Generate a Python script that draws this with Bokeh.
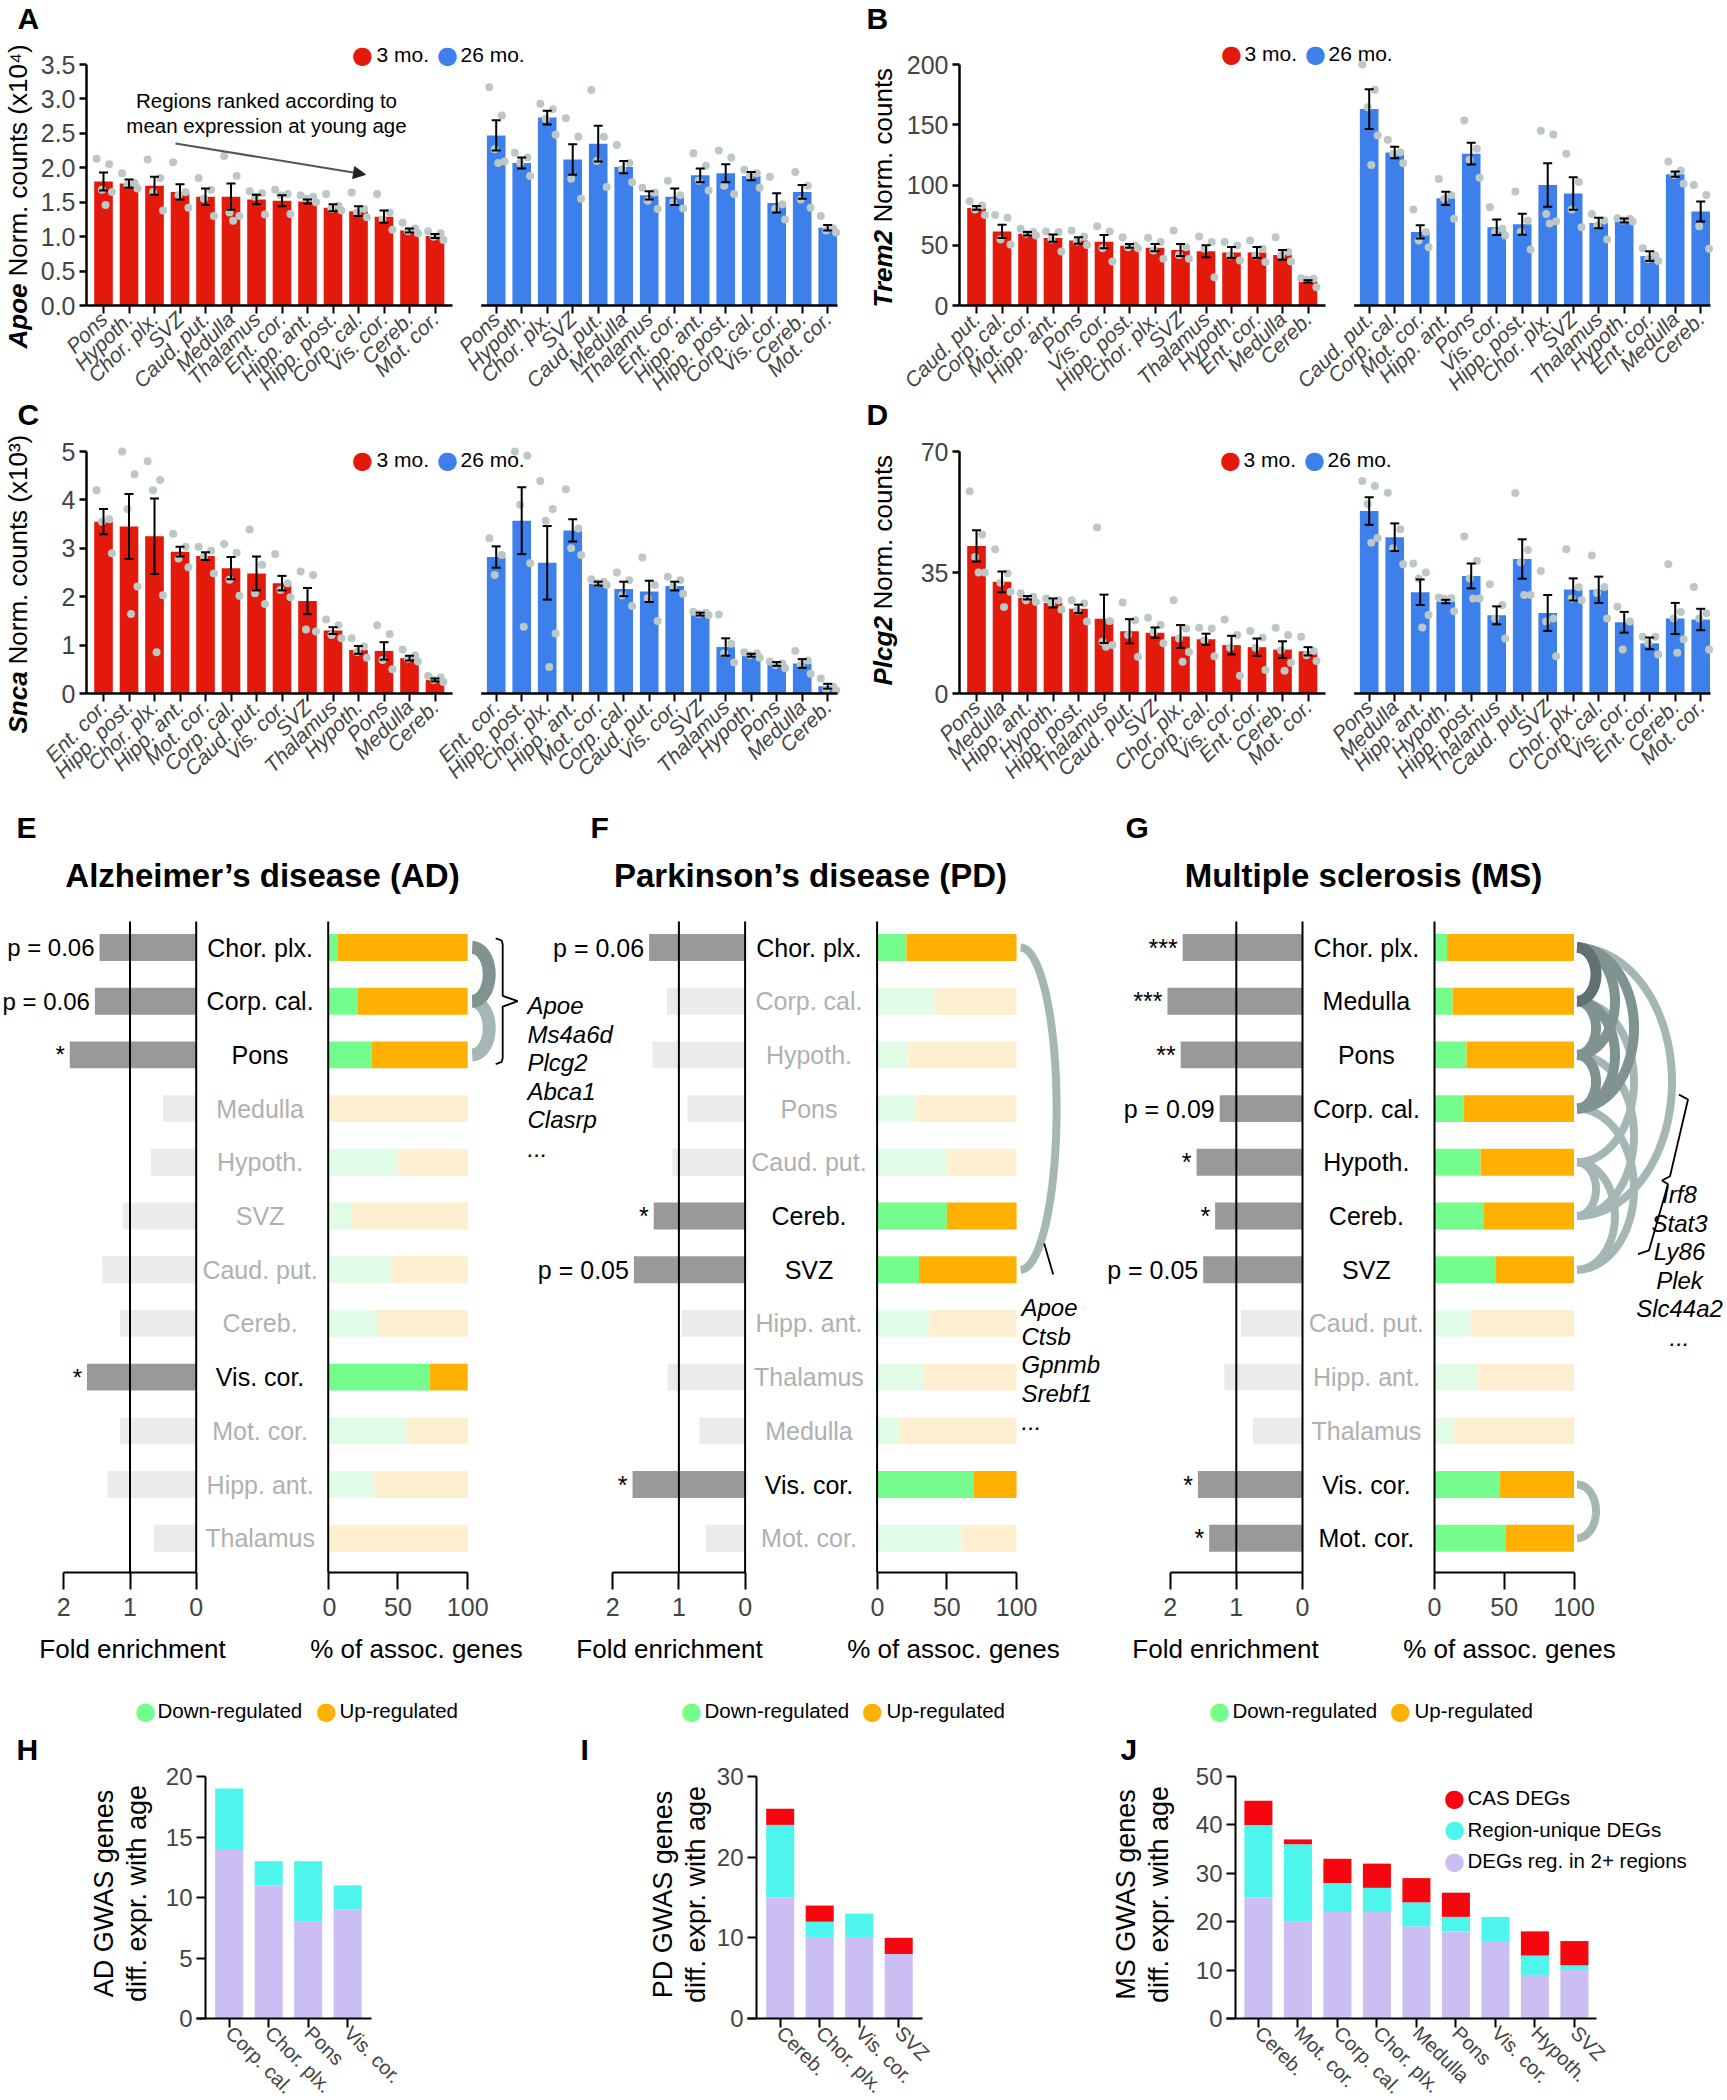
import math
import numpy as np
from bokeh.plotting import figure
from bokeh.layouts import column, row
from bokeh.models import (Range1d, FixedTicker, LinearAxis, Label, Whisker, TeeHead,
                          ColumnDataSource, Arrow, NormalHead, PrintfTickFormatter, Grid)
from bokeh.embed import file_html
from bokeh.resources import INLINE
from bokeh.core.properties import value

FONT = "Liberation Sans"
SYM = "DejaVu Sans"

# ======================= DATA =======================
# ---- A: Apoe (x10^4) ----
A_regions = ["Pons", "Hypoth.", "Chor. plx.", "SVZ", "Caud. put.", "Medulla", "Thalamus",
             "Ent. cor.", "Hipp. ant.", "Hipp. post.", "Corp. cal.", "Vis. cor.", "Cereb.", "Mot. cor."]
A_young = [1.80, 1.77, 1.74, 1.65, 1.58, 1.58, 1.54, 1.52, 1.51, 1.42, 1.37, 1.29, 1.09, 1.01]
A_young_sem = [0.13, 0.06, 0.13, 0.11, 0.12, 0.19, 0.07, 0.08, 0.03, 0.05, 0.07, 0.09, 0.03, 0.03]
A_old = [2.47, 2.07, 2.73, 2.12, 2.35, 2.01, 1.60, 1.58, 1.89, 1.92, 1.88, 1.49, 1.65, 1.13]
A_old_sem = [0.22, 0.08, 0.10, 0.22, 0.26, 0.09, 0.06, 0.12, 0.10, 0.13, 0.06, 0.14, 0.10, 0.04]
A_young_pts = [[2.13, 2.05, 1.68, 1.65, 1.46], [1.92, 1.78, 1.75, 1.70], [2.12, 1.85, 1.65, 1.38],
               [2.08, 1.65, 1.60, 1.42], [1.85, 1.68, 1.55, 1.30], [2.17, 1.88, 1.35, 1.30, 1.23],
               [1.66, 1.63, 1.58, 1.32], [1.68, 1.62, 1.60, 1.33], [1.60, 1.58, 1.55, 1.50],
               [1.62, 1.45, 1.40, 1.38], [1.64, 1.40, 1.35, 1.28], [1.62, 1.35, 1.25, 1.10],
               [1.20, 1.12, 1.08, 1.05], [1.08, 1.05, 1.00, 0.95]]
A_old_pts = [[3.17, 2.76, 2.27, 2.09, 2.07], [2.22, 2.15, 2.07, 1.88], [2.93, 2.85, 2.71, 2.48],
             [2.72, 2.45, 1.84, 1.55], [3.13, 2.45, 2.10, 1.72], [2.33, 2.07, 1.98, 1.79],
             [1.71, 1.64, 1.52, 1.40], [1.81, 1.60, 1.50, 1.41], [2.21, 2.03, 1.81, 1.67],
             [2.25, 2.15, 1.74, 1.62], [1.97, 1.92, 1.88, 1.71], [1.87, 1.47, 1.40, 1.25],
             [1.94, 1.74, 1.54, 1.42], [1.30, 1.12, 1.09, 1.06]]
A_ticks = [0.0, 0.5, 1.0, 1.5, 2.0, 2.5, 3.0, 3.5]

# ---- B: Trem2 ----
B_regions = ["Caud. put.", "Corp. cal.", "Mot. cor.", "Hipp. ant.", "Pons", "Vis. cor.", "Hipp. post.",
             "Chor. plx.", "SVZ", "Thalamus", "Hypoth.", "Ent. cor.", "Medulla", "Cereb."]
B_young = [81, 61.5, 59.5, 56, 54, 53, 49.5, 48, 46, 45, 44, 44, 42, 20]
B_young_sem = [1.5, 5.5, 1.5, 3, 2.7, 5.5, 1.5, 3, 5, 5, 4.5, 4.5, 4, 1]
B_old = [163, 127, 61, 89, 126, 65, 67.5, 100, 93, 68.5, 70.5, 41, 109, 78]
B_old_sem = [16.5, 4.7, 5.5, 5.5, 9, 6.4, 8.7, 18, 13.5, 4.4, 1.7, 4, 2.2, 8.3]
B_young_pts = [[86.6, 83, 79.7, 75.2], [75.2, 72.8, 54.8, 50.6], [63.6, 60.9, 59.5, 58.1],
               [61.4, 60.9, 54.8, 44.8], [62.2, 57.3, 53.1, 50.3], [65.8, 61.4, 47.6, 36.5],
               [56.7, 49.8, 48.4, 47.6], [56.2, 52.6, 45.6, 38.7], [62.2, 48.4, 42, 38.7],
               [57.3, 52.6, 47, 23.5], [52.6, 49.8, 41.5, 37.3], [53.9, 47, 41.5, 36],
               [56.7, 44.3, 41.5, 36.5], [22.7, 22.1, 21.6, 15.2]]
B_old_pts = [[200, 179, 164.6, 141, 116.7], [137.5, 127.2, 125.9, 118], [79.7, 60.9, 53.9, 48.4],
             [105, 91.8, 88.5, 72], [153.5, 130, 121, 106], [81.6, 63.6, 60.9, 58.1],
             [94.6, 70.5, 60.9, 46.5], [145, 142, 76, 70, 68], [125.9, 102.4, 79.7, 65],
             [76, 70.5, 66.4, 54.8], [72.5, 72, 70.5, 69.7], [47.5, 41.5, 38.5, 37],
             [119.5, 112, 108.4, 101], [100, 91.8, 65.8, 47]]
B_ticks = [0, 50, 100, 150, 200]

# ---- C: Snca (x10^3) ----
C_regions = ["Ent. cor.", "Hipp. post.", "Chor. plx.", "Hipp. ant.", "Mot. cor.", "Corp. cal.",
             "Caud. put.", "Vis. cor.", "SVZ", "Thalamus", "Hypoth.", "Pons", "Medulla", "Cereb."]
C_young = [3.55, 3.45, 3.25, 2.93, 2.84, 2.59, 2.48, 2.28, 1.91, 1.30, 0.90, 0.88, 0.73, 0.28]
C_young_sem = [0.26, 0.67, 0.78, 0.10, 0.08, 0.23, 0.35, 0.15, 0.27, 0.07, 0.08, 0.18, 0.05, 0.03]
C_old = [2.82, 3.57, 2.70, 3.37, 2.27, 2.16, 2.11, 2.22, 1.64, 0.96, 0.79, 0.61, 0.62, 0.15]
C_old_sem = [0.22, 0.69, 0.76, 0.23, 0.04, 0.15, 0.22, 0.09, 0.03, 0.18, 0.03, 0.04, 0.09, 0.05]
C_young_pts = [[4.2, 3.6, 3.55, 2.9], [5.0, 4.53, 3.81, 2.21, 1.64], [4.8, 4.41, 4.2, 2.03, 0.85],
               [3.3, 3.03, 2.79, 2.61], [3.03, 2.95, 2.83, 2.48], [3.09, 2.91, 2.35, 2.02],
               [3.39, 2.66, 2.07, 1.85], [2.88, 2.28, 2.14, 1.99], [2.52, 2.45, 1.32, 1.28],
               [1.53, 1.41, 1.21, 1.14], [1.14, 0.97, 0.86, 0.74], [1.41, 1.23, 0.69, 0.5],
               [0.91, 0.79, 0.72, 0.66], [0.36, 0.33, 0.28, 0.24]]
C_old_pts = [[3.21, 2.86, 2.45], [5.0, 4.91, 3.9, 2.69, 1.38], [4.39, 3.81, 3.57, 1.24, 0.55],
             [4.22, 3.41, 3.0, 2.86], [2.36, 2.31, 2.28, 2.24], [2.5, 2.34, 2.03, 1.81],
             [2.81, 2.24, 1.97, 1.5], [2.41, 2.34, 2.21, 2.06], [1.69, 1.67, 1.64, 1.62],
             [1.63, 1.03, 0.83, 0.64], [0.85, 0.83, 0.79, 0.74], [0.66, 0.62, 0.59, 0.52],
             [0.88, 0.68, 0.59, 0.41], [0.31, 0.14, 0.08, 0.06]]
C_ticks = [0, 1, 2, 3, 4, 5]

# ---- D: Plcg2 ----
D_regions = ["Pons", "Medulla", "Hipp. ant.", "Hypoth.", "Hipp. post.", "Thalamus", "Caud. put.",
             "SVZ", "Chor. plx.", "Corp. cal.", "Vis. cor.", "Ent. cor.", "Cereb.", "Mot. cor."]
D_young = [42.7, 32.3, 27.7, 26.2, 24.5, 21.6, 18.0, 17.6, 16.5, 15.7, 14.0, 13.4, 12.7, 12.2]
D_young_sem = [4.5, 3.0, 0.5, 1.3, 1.2, 7.0, 3.5, 1.5, 3.3, 1.6, 2.7, 2.5, 2.4, 1.2]
D_old = [52.8, 45.2, 29.3, 26.6, 34.0, 22.6, 38.9, 23.3, 30.1, 30.0, 20.6, 14.5, 21.7, 21.4]
D_old_sem = [4.0, 4.0, 3.7, 0.5, 3.6, 2.6, 5.7, 5.2, 3.2, 3.8, 3.0, 1.7, 4.5, 3.1]
D_young_pts = [[58.5, 46, 39.5, 35, 35], [41.7, 34.7, 32, 29.4, 25], [29, 28, 27, 26.5],
               [27.5, 27, 26, 24.3], [27, 26, 24, 20.8], [48, 21, 15, 14, 13.5],
               [26.3, 21.2, 16.9, 10.6], [21.9, 19.8, 17.7, 14.5], [27, 18.8, 15.9, 12, 9.2],
               [19, 18.8, 15.4, 10.8], [21.4, 16.9, 13.2, 5.1], [18.1, 16.1, 13.2, 6.8],
               [19, 16.9, 12.5, 8.9, 6.6], [16.4, 12.3, 11.1, 9.4]]
D_old_pts = [[61.5, 60, 54.8, 45, 43.6], [58.1, 47.5, 42, 37.4], [37.6, 35, 33.3, 22.7, 19.1],
             [27.8, 27.6, 27.4, 23.8], [45.4, 38.3, 33.3, 27.5, 27.5], [31.6, 25.6, 21.7, 15.9],
             [58, 41.5, 38, 28.5, 28.5], [35.4, 21.7, 20.8, 10.8], [41.7, 30.7, 27.5, 27],
             [39.9, 30.8, 29.1, 21.7], [25.1, 20.8, 12.7], [16.4, 16.4, 14.5, 11.3],
             [37.4, 23.6, 21.7, 15.7, 11.8], [30.8, 23.2, 21.7, 12.7]]
D_ticks = [0, 35, 70]

# ---- E / F / G: GWAS enrichment ----
E_regions = ["Chor. plx.", "Corp. cal.", "Pons", "Medulla", "Hypoth.", "SVZ", "Caud. put.",
             "Cereb.", "Vis. cor.", "Mot. cor.", "Hipp. ant.", "Thalamus"]
E_fold = [1.46, 1.53, 1.91, 0.50, 0.68, 1.11, 1.42, 1.15, 1.65, 1.15, 1.34, 0.64]
E_down_pct = [7, 21, 31, 0, 50, 17, 45, 35, 73, 56, 33, 0]
E_sig = ["p = 0.06", "p = 0.06", "*", "", "", "", "", "", "*", "", "", ""]
E_enriched = [1, 1, 1, 0, 0, 0, 0, 0, 1, 0, 0, 0]
E_links = [(0, 1, 1), (1, 2, 0)]
E_genes = ["Apoe", "Ms4a6d", "Plcg2", "Abca1", "Clasrp", "..."]

F_regions = ["Chor. plx.", "Corp. cal.", "Hypoth.", "Pons", "Caud. put.", "Cereb.", "SVZ",
             "Hipp. ant.", "Thalamus", "Medulla", "Vis. cor.", "Mot. cor."]
F_fold = [1.45, 1.18, 1.40, 0.87, 1.10, 1.38, 1.68, 0.96, 1.17, 0.69, 1.70, 0.59]
F_down_pct = [21, 41, 22, 28, 50, 50, 30, 37, 33, 16, 69, 60]
F_sig = ["p = 0.06", "", "", "", "", "*", "p = 0.05", "", "", "", "*", ""]
F_enriched = [1, 0, 0, 0, 0, 1, 1, 0, 0, 0, 1, 0]
F_links = [(0, 6, 0)]
F_genes = ["Apoe", "Ctsb", "Gpnmb", "Srebf1", "..."]

G_regions = ["Chor. plx.", "Medulla", "Pons", "Corp. cal.", "Hypoth.", "Cereb.", "SVZ",
             "Caud. put.", "Hipp. ant.", "Thalamus", "Vis. cor.", "Mot. cor."]
G_fold = [1.81, 2.04, 1.84, 1.25, 1.60, 1.32, 1.50, 0.93, 1.18, 0.75, 1.58, 1.41]
G_down_pct = [9, 13, 23, 21, 33, 35, 44, 26, 31, 14, 47, 51]
G_sig = ["***", "***", "**", "p = 0.09", "*", "*", "p = 0.05", "", "", "", "*", "*"]
G_enriched = [1, 1, 1, 1, 1, 1, 1, 0, 0, 0, 1, 1]
G_links = [(0, 5, 0), (1, 4, 0), (2, 5, 0), (3, 6, 0), (4, 5, 0), (4, 6, 0), (10, 11, 0),
           (0, 2, 1), (0, 3, 1), (1, 2, 1), (1, 3, 1), (2, 3, 1), (0, 1, 2)]
G_genes = ["Irf8", "Stat3", "Ly86", "Plek", "Slc44a2", "..."]

# ---- H / I / J: GWAS genes differentially expressed with age ----
H_regions = ["Corp. cal.", "Chor. plx.", "Pons", "Vis. cor."]
H_multi = [14, 11, 8, 9]
H_unique = [5, 2, 5, 2]
H_cas = [0, 0, 0, 0]
I_regions = ["Cereb.", "Chor. plx.", "Vis. cor.", "SVZ"]
I_multi = [15, 10, 10, 8]
I_unique = [9, 2, 3, 0]
I_cas = [2, 2, 0, 2]
J_regions = ["Cereb.", "Mot. cor.", "Corp. cal.", "Chor. plx.", "Medulla", "Pons", "Vis. cor.",
             "Hypoth.", "SVZ"]
J_multi = [25, 20, 22, 22, 19, 18, 16, 9, 10]
J_unique = [15, 16, 6, 5, 5, 3, 5, 4, 1]
J_cas = [5, 1, 5, 5, 5, 5, 0, 5, 5]

# ======================= STYLE =======================
RED = "#E3190B"
BLUE = "#3E80EB"
DOTC = "#BCC8C6"
DARKBAR = "#999999"
LIGHTBAR = "#EBEBEB"
GREEN = "#74FD8C"
ORANGE = "#FFB000"
LGREEN = "#E1FCE6"
LORANGE = "#FDEFD0"
NSTXT = "#B0B0B0"
ARC = ["#A5B7B4", "#7F9391", "#5F7170"]
LAV = "#CBBEF2"
CYAN = "#4EF5EC"
CASRED = "#F6060F"
PAGE_R = 1725     # right edge of the content
PAGE_B = 2100     # bottom edge of the content


def canvas_fig(cx0, cy0, cx1, cy1, fx, fy):
    """Figure whose plotting frame fills its whole canvas (page rect cx0..cx1, cy0..cy1).
    fx / fy map page pixel positions to the figure's data coordinates."""
    p = figure(width=int(cx1 - cx0), height=int(cy1 - cy0),
               x_range=Range1d(fx(cx0), fx(cx1)), y_range=Range1d(fy(cy1), fy(cy0)),
               output_backend="svg", toolbar_location=None,
               x_axis_location=None, y_axis_location=None,
               min_border_left=0, min_border_right=0, min_border_top=0, min_border_bottom=0,
               title=None)
    p.outline_line_color = None
    for g in p.select(type=Grid):
        g.visible = False
    return p, (cx0, cy1)


def page_label(p, org, px, py, text, size, color="black", style="normal", align="left",
               baseline="middle", angle=0.0, font=FONT):
    p.add_layout(Label(x=px - org[0], y=org[1] - py, x_units="screen", y_units="screen", text=text,
                       text_font=font, text_font_size=f"{size}px", text_font_style=style,
                       text_color=color, text_align=align, text_baseline=baseline, angle=angle))


def dot(p, org, px, py, color):
    page_label(p, org, px, py, "\u25CF", 24, color=color, align="center", font=SYM)


# ======================= PANELS A-D =======================
SP = 25.5        # px per bar slot
XL0 = -0.667     # bar units at the y axis
OFF = 15.4       # position of first 26 mo. bar
FW = 751         # width of the bar area in px
JIT = [-0.27, 0.22, -0.06, 0.33, 0.08]
ROW1 = dict(top=0, bottom=397, tick=64, zero=305)
ROW2 = dict(top=397, bottom=794, tick=451, zero=693)


def bar_panel(cx0, cx1, fl, R, ytop, yticks, fmt, regions, ym, ye, yp, om, oe, op):
    ppu = (R["zero"] - R["tick"]) / ytop

    def fx(px):
        return XL0 + (px - fl) / SP

    def fy(py):
        return (R["zero"] - py) / ppu

    p, org = canvas_fig(cx0, R["top"], cx1, R["bottom"], fx, fy)
    n = len(regions)
    xy = list(range(n))
    xo = [OFF + i for i in range(n)]
    for xs, means, errs, pts, col in ((xy, ym, ye, yp, RED), (xo, om, oe, op, BLUE)):
        p.vbar(x=xs, top=means, width=0.73, fill_color=col, line_color=None)
        dx, dy = [], []
        for x, vals in zip(xs, pts):
            for k, v in enumerate(vals):
                dx.append(x + JIT[k % len(JIT)])
                dy.append(v)
        p.scatter(x=dx, y=dy, size=8, fill_color=DOTC, line_color=None)
        src = ColumnDataSource(dict(x=xs, up=[m + e for m, e in zip(means, errs)],
                                    lo=[m - e for m, e in zip(means, errs)]))
        p.add_layout(Whisker(source=src, base="x", upper="up", lower="lo", line_color="black",
                             line_width=2, level="overlay",
                             upper_head=TeeHead(size=9, line_color="black", line_width=2),
                             lower_head=TeeHead(size=9, line_color="black", line_width=2)))
    p.segment(x0=[XL0, OFF - 0.59], y0=[0, 0], x1=[XL0 + 366 / SP, XL0 + FW / SP], y1=[0, 0],
              line_color="black", line_width=2.5)
    ya = LinearAxis(fixed_location=XL0, bounds=(0, ytop), ticker=FixedTicker(ticks=yticks),
                    formatter=PrintfTickFormatter(format=fmt),
                    axis_line_width=2.5, major_tick_line_width=2.5, major_tick_out=7, major_tick_in=0,
                    minor_tick_line_color=None, major_label_standoff=4,
                    major_label_text_font=FONT, major_label_text_font_size="25px")
    p.add_layout(ya, "left")
    ticks = xy + xo
    xa = LinearAxis(fixed_location=0, ticker=FixedTicker(ticks=ticks),
                    major_label_overrides={t: r for t, r in zip(ticks, regions + regions)},
                    major_label_orientation=math.pi / 4, axis_line_color=None,
                    major_tick_line_width=2, major_tick_in=0, major_tick_out=8,
                    minor_tick_line_color=None, major_label_standoff=2,
                    major_label_text_font=FONT, major_label_text_font_size="21px",
                    major_label_text_font_style="italic")
    p.add_layout(xa, "below")
    return p, org, fx, fy


def ylab(p, org, px, py, gene, gene_w, rest):
    page_label(p, org, px, py, gene, 26, style="bold italic", angle=math.pi / 2)
    page_label(p, org, px, py - gene_w - 7, rest, 26, angle=math.pi / 2)


def age_legend(p, org, xs, py):
    dot(p, org, xs[0], py, RED)
    page_label(p, org, xs[1], py, "3 mo.", 21)
    dot(p, org, xs[2], py, BLUE)
    page_label(p, org, xs[3], py, "26 mo.", 21)


pA, org, fx, fy = bar_panel(0, 857, 86, ROW1, 3.5, A_ticks, "%.1f", A_regions,
                            A_young, A_young_sem, A_young_pts, A_old, A_old_sem, A_old_pts)
page_label(pA, org, 17, 1, "A", 30, style="bold", baseline="top")
ylab(pA, org, 17, 348, "Apoe", 65, "Norm. counts (x10\u2074)")
age_legend(pA, org, [362, 376, 447, 460], 54)
page_label(pA, org, 266, 100, "Regions ranked according to", 20.5, align="center")
page_label(pA, org, 266, 125, "mean expression at young age", 20.5, align="center")
pA.add_layout(Arrow(end=NormalHead(size=12, fill_color="#222222", line_color="#222222"),
                    x_start=fx(175), y_start=fy(143), x_end=fx(365), y_end=fy(174),
                    line_color="#555555", line_width=2))

pB, org, fx, fy = bar_panel(857, PAGE_R, 959, ROW1, 200, B_ticks, "%d", B_regions,
                            B_young, B_young_sem, B_young_pts, B_old, B_old_sem, B_old_pts)
page_label(pB, org, 866, 1, "B", 30, style="bold", baseline="top")
ylab(pB, org, 882, 307, "Trem2", 78, "Norm. counts")
age_legend(pB, org, [1231, 1244, 1315, 1328], 53)

pC, org, fx, fy = bar_panel(0, 857, 86, ROW2, 5, C_ticks, "%d", C_regions,
                            C_young, C_young_sem, C_young_pts, C_old, C_old_sem, C_old_pts)
page_label(pC, org, 17, 397, "C", 30, style="bold", baseline="top")
ylab(pC, org, 17, 733, "Snca", 62, "Norm. counts (x10\u00B3)")
age_legend(pC, org, [362, 376, 447, 460], 459)

pD, org, fx, fy = bar_panel(857, PAGE_R, 959, ROW2, 70, D_ticks, "%d", D_regions,
                            D_young, D_young_sem, D_young_pts, D_old, D_old_sem, D_old_pts)
page_label(pD, org, 866, 397, "D", 30, style="bold", baseline="top")
ylab(pD, org, 882, 685, "Plcg2", 69, "Norm. counts")
age_legend(pD, org, [1230, 1243, 1314, 1327], 459)

# ======================= HEADER for E-G =======================
hdr, org = canvas_fig(0, 794, PAGE_R, 900, lambda v: v, lambda v: -v)
for letter, lx in (("E", 16), ("F", 590), ("G", 1125)):
    page_label(hdr, org, lx, 810, letter, 30, style="bold", baseline="top")
for title, tx in (("Alzheimer\u2019s disease (AD)", 262), ("Parkinson\u2019s disease (PD)", 810),
                  ("Multiple sclerosis (MS)", 1363)):
    page_label(hdr, org, tx, 875, title, 33, style="bold", align="center")

# ======================= PANELS E-G =======================
R3_TOP, R3_BOT = 900, 1628
FR_TOP, FR_BOT = 921, 1572
ROW0, ROWH = 947, 53.7
FPX, PPX = 66.2, 1.395
LABEL_X = -0.965


def fy3(py):
    return (py - ROW0) / ROWH


Y_TOP3, Y_BOT3 = fy3(FR_TOP), fy3(FR_BOT)


def bottom_axis(p, bounds, ticks):
    ax = LinearAxis(fixed_location=Y_BOT3, bounds=bounds, ticker=FixedTicker(ticks=ticks),
                    axis_line_width=2, major_tick_line_width=2, major_tick_out=17, major_tick_in=0,
                    minor_tick_line_color=None, major_label_standoff=8,
                    major_label_text_font=FONT, major_label_text_font_size="25px")
    p.add_layout(ax, "below")


def fold_fig(L, R, zero, regions, fold, enriched, sig, sig_size):
    p, org = canvas_fig(L, R3_TOP, R, R3_BOT, lambda px: (zero - px) / FPX, fy3)
    rows = list(range(len(regions)))
    p.hbar(y=rows, left=0, right=fold, height=0.5, line_color=None,
           fill_color=[DARKBAR if e else LIGHTBAR for e in enriched])
    p.segment(x0=[0, 1], y0=[Y_TOP3, Y_TOP3], x1=[0, 1], y1=[Y_BOT3, Y_BOT3],
              line_color="black", line_width=2)
    src = ColumnDataSource(dict(x=[LABEL_X] * len(rows), y=rows, t=regions,
                                c=["black" if e else NSTXT for e in enriched]))
    p.text(x="x", y="y", text="t", text_color="c", source=src, text_font=value(FONT),
           text_font_size="25px", text_align="center", text_baseline="middle")
    sx, sy, st = [], [], []
    for r, f, s in zip(rows, fold, sig):
        if s:
            sx.append(f + 5 / FPX)
            sy.append(r)
            st.append(s)
    p.text(x=sx, y=sy, text=st, text_font=value(FONT), text_font_size=f"{sig_size}px",
           text_align="right", text_baseline="middle", text_color="black")
    bottom_axis(p, (0, 2), [0, 1, 2])
    return p, org


def pct_fig(L, R, pz, regions, down, enriched, links, rx_row, gap, widths):
    p, org = canvas_fig(L, R3_TOP, R, R3_BOT, lambda px: (px - pz) / PPX, fy3)
    rows = list(range(len(regions)))
    p.hbar(y=rows, left=0, right=down, height=0.5, line_color=None,
           fill_color=[GREEN if e else LGREEN for e in enriched])
    p.hbar(y=rows, left=down, right=100, height=0.5, line_color=None,
           fill_color=[ORANGE if e else LORANGE for e in enriched])
    p.segment(x0=[0], y0=[Y_TOP3], x1=[0], y1=[Y_BOT3], line_color="black", line_width=2)
    t = np.linspace(0, np.pi, 60)
    for level in (0, 1, 2):
        xs, ys = [], []
        for (i, j, lv) in links:
            if lv != level:
                continue
            d = j - i
            x0 = 100 + gap / PPX
            rx = rx_row * d / PPX
            xs.append(list(x0 + rx * np.sin(t)))
            ys.append(list(i + d * (1 - np.cos(t)) / 2))
        if xs:
            p.multi_line(xs, ys, line_color=ARC[level], line_width=widths[level], line_cap="butt")
    bottom_axis(p, (0, 100), [0, 50, 100])
    return p, org


def deco(p, pts):
    p.line(x=[100 + dx / PPX for dx, _ in pts], y=[r for _, r in pts], line_color="black",
           line_width=1.8)


# E
E_zero = 195.7
pEf, _ = fold_fig(0, 322, E_zero, E_regions, E_fold, E_enriched, E_sig, 24)
pEp, _ = pct_fig(322, 522, E_zero + 132, E_regions, E_down_pct, E_enriched, E_links, 17, 4.5,
                 (13, 13, 13))
deco(pEp, [(28, -0.17), (34, -0.13), (35, -0.06), (35, 0.9), (50, 1.0), (35, 1.1), (35, 2.06),
           (34, 2.13), (28, 2.17)])
# F
F_zero = 744.6
pFf, orgFf = fold_fig(522, 870, F_zero, F_regions, F_fold, F_enriched, F_sig, 25)
pFp, orgFp = pct_fig(870, 1101, F_zero + 132, F_regions, F_down_pct, F_enriched, F_links, 6, 4,
                     (8, 8, 8))
deco(pFp, [(27.6, 5.51), (36.6, 6.09)])
for k, g in enumerate(E_genes):
    page_label(pFf, orgFf, 527, 1005 + 28.6 * k, g, 24, style="italic")
for k, g in enumerate(F_genes):
    page_label(pFp, orgFp, 1021, 1307 + 28.6 * k, g, 24, style="italic")
# G
G_zero = 1302
pGf, _ = fold_fig(1101, 1427, G_zero, G_regions, G_fold, G_enriched, G_sig, 25)
pGp, orgGp = pct_fig(1427, PAGE_R, G_zero + 132, G_regions, G_down_pct, G_enriched, G_links, 19, 3,
                     (8, 10, 11))
deco(pGp, [(105, 2.74), (114, 2.83), (96, 4.26), (88, 4.34), (94, 4.41), (75, 5.64), (64, 5.71)])
for k, g in enumerate(G_genes):
    page_label(pGp, orgGp, 1679, 1194 + 28.6 * k, g, 24, style="italic", align="center")

# axis titles of E-G (a strip under the three panels)
strip, org = canvas_fig(0, 1628, PAGE_R, 1670, lambda v: v, lambda v: -v)
for cx in (132, 669, 1225):
    page_label(strip, org, cx, 1648, "Fold enrichment", 26, align="center")
for cx in (416, 953, 1509):
    page_label(strip, org, cx, 1648, "% of assoc. genes", 26, align="center")

# ======================= PANELS H-J =======================
R4_TOP, R4_BOT = 1670, PAGE_B
R4_FTOP, R4_FBOT = 1776, 2018
SLOT = 39.5


def stack_fig(cx0, cx1, fl, fw, xstart, regions, multi, uniq, cas, ymax, yticks):
    ppu = (R4_FBOT - R4_FTOP) / ymax
    p, org = canvas_fig(cx0, R4_TOP, cx1, R4_BOT, lambda px: xstart + (px - fl) / SLOT,
                        lambda py: (R4_FBOT - py) / ppu)
    n = len(regions)
    src = ColumnDataSource(dict(x=list(range(n)), multi=multi, uniq=uniq, cas=cas))
    p.vbar_stack(["multi", "uniq", "cas"], x="x", width=0.71, source=src, line_color=None,
                 fill_color=[LAV, CYAN, CASRED])
    ya = LinearAxis(fixed_location=xstart, bounds=(0, ymax), ticker=FixedTicker(ticks=yticks),
                    axis_line_width=2, major_tick_line_width=2,
                    major_tick_out=9, major_tick_in=0, minor_tick_line_color=None,
                    major_label_standoff=4, major_label_text_font=FONT,
                    major_label_text_font_size="24px")
    p.add_layout(ya, "left")
    xa = LinearAxis(fixed_location=0, bounds=(xstart - 9 / SLOT, xstart + fw / SLOT),
                    ticker=FixedTicker(ticks=list(range(n))),
                    major_label_overrides={i: r for i, r in enumerate(regions)},
                    major_label_orientation=-math.pi / 4, major_label_standoff=2,
                    major_label_text_font=FONT, major_label_text_font_size="20px",
                    axis_line_width=2, major_tick_line_width=2, major_tick_out=9, major_tick_in=0,
                    minor_tick_line_color=None)
    p.add_layout(xa, "below")
    return p, org


def updown_legend(p, org, xs):
    dot(p, org, xs[0], 1710, GREEN)
    page_label(p, org, xs[1], 1710, "Down-regulated", 20.5)
    dot(p, org, xs[2], 1710, ORANGE)
    page_label(p, org, xs[3], 1710, "Up-regulated", 20.5)


pH, org = stack_fig(0, 575, 205, 166, -0.6, H_regions, H_multi, H_unique, H_cas, 20,
                    [0, 5, 10, 15, 20])
page_label(pH, org, 16, 1732, "H", 30, style="bold", baseline="top")
page_label(pH, org, 103, 1893, "AD GWAS genes", 27, align="center", angle=math.pi / 2)
page_label(pH, org, 136, 1893, "diff. expr. with age", 27, align="center", angle=math.pi / 2)
updown_legend(pH, org, [145, 157, 326, 339])

pI, org = stack_fig(575, 1100, 756, 166, -0.6, I_regions, I_multi, I_unique, I_cas, 30,
                    [0, 10, 20, 30])
page_label(pI, org, 580, 1732, "I", 30, style="bold", baseline="top")
page_label(pI, org, 662, 1894, "PD GWAS genes", 27, align="center", angle=math.pi / 2)
page_label(pI, org, 695, 1894, "diff. expr. with age", 27, align="center", angle=math.pi / 2)
updown_legend(pI, org, [691, 704, 872, 886])

pJ, org = stack_fig(1100, PAGE_R, 1235, 361, -0.58, J_regions, J_multi, J_unique, J_cas, 50,
                    [0, 10, 20, 30, 40, 50])
page_label(pJ, org, 1120, 1732, "J", 30, style="bold", baseline="top")
page_label(pJ, org, 1125, 1894, "MS GWAS genes", 27, align="center", angle=math.pi / 2)
page_label(pJ, org, 1158, 1894, "diff. expr. with age", 27, align="center", angle=math.pi / 2)
updown_legend(pJ, org, [1219, 1232, 1400, 1414])
for k, (txt, col) in enumerate((("CAS DEGs", CASRED), ("Region-unique DEGs", CYAN),
                                ("DEGs reg. in 2+ regions", LAV))):
    dot(pJ, org, 1454, 1797 + 31.5 * k, col)
    page_label(pJ, org, 1467, 1797 + 31.5 * k, txt, 20.5)

layout = column(row(pA, pB), row(pC, pD), hdr,
                row(pEf, pEp, pFf, pFp, pGf, pGp), strip, row(pH, pI, pJ))

open("out.html", "w").write(file_html(layout, INLINE, title="Figure"))
